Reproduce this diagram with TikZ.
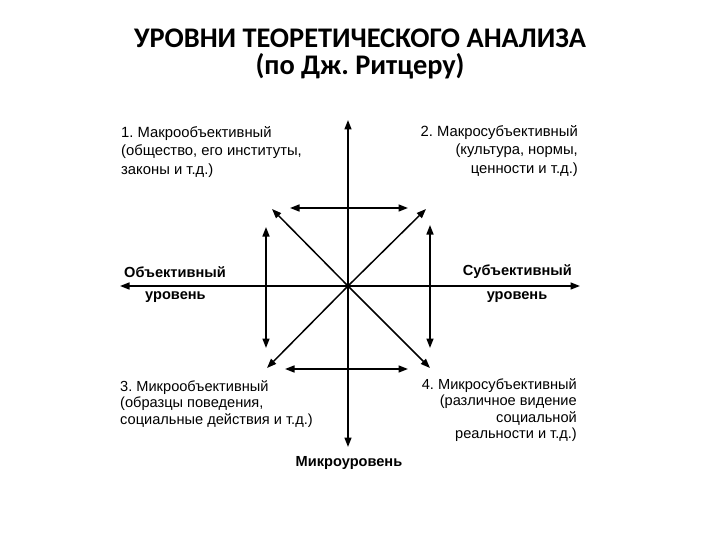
\documentclass[tikz,border=0pt]{standalone}
\usepackage{fontspec}
\setmainfont{Liberation Sans}
\newfontfamily\titlefont{Carlito}
\usetikzlibrary{arrows.meta}
\frenchspacing
\begin{document}
\begin{tikzpicture}[x=1pt,y=-1pt,
  tip/.tip={Triangle[length=9.5pt,width=7pt]},
  dbl/.style={line width=1.5pt,{tip}-{tip}},
  one/.style={line width=1.5pt,-{tip}},
  lbl/.style={inner sep=0pt,font=\fontsize{14.8}{18.5}\selectfont},
  lbls/.style={inner sep=0pt,font=\fontsize{14.6}{16.6}\selectfont},
  blbl/.style={inner sep=0pt,font=\fontsize{14.6}{16}\selectfont\bfseries},
  ttl/.style={inner sep=0pt,font=\titlefont\bfseries\fontsize{28.4}{30}\selectfont}]
\useasboundingbox (0,0) rectangle (720,540);

% title
\node[ttl] (t1) at (360,38) {УРОВНИ ТЕОРЕТИЧЕСКОГО АНАЛИЗА};
\node[ttl] (t2) at (360,66) {(по Дж. Ритцеру)};

% coordinates
\coordinate (C) at (348,286);
\coordinate (top) at (348,120);
\coordinate (bot) at (348,447);
\coordinate (lft) at (120,286);
\coordinate (rgt) at (580,286);
\coordinate (dul) at (272,209);
\coordinate (dur) at (426,209);
\coordinate (dll) at (267,368);
\coordinate (dlr) at (430,368);
\coordinate (htl) at (290,208);
\coordinate (htr) at (408,208);
\coordinate (hbl) at (285,369);
\coordinate (hbr) at (408,369);
\coordinate (vlt) at (266,227);
\coordinate (vlb) at (266,348);
\coordinate (vrt) at (430,225);
\coordinate (vrb) at (430,348);

% axes
\draw[dbl] (bot) -- (top);
\draw[dbl] (lft) -- (rgt);
\draw[one] (C) -- (dul);
\draw[one] (C) -- (dur);
\draw[one] (C) -- (dll);
\draw[one] (C) -- (dlr);
\draw[dbl] (htl) -- (htr);
\draw[dbl] (hbl) -- (hbr);
\draw[dbl] (vlt) -- (vlb);
\draw[dbl] (vrt) -- (vrb);

% corner texts
\node[lbl,anchor=north west,align=left] (q1) at (121,126)
  {1. Макрообъективный\\(общество, его институты,\\законы и т.д.)};
\node[lbl,anchor=north east,align=right] (q2) at (578,125)
  {2. Макросубъективный\\(культура, нормы,\\ценности и т.д.)};
\node[lbls,anchor=north west,align=left] (q3) at (120,380)
  {3. Микрообъективный\\(образцы поведения,\\социальные действия и т.д.)};
\node[lbls,anchor=north east,align=right] (q4) at (577,378)
  {4. Микросубъективный\\(различное видение\\социальной\\реальности и т.д.)};

% axis labels
\node[blbl,anchor=west] (ol1) at (124,272) {Объективный};
\node[blbl,anchor=west] (ol2) at (145,297) {уровень};
\node[blbl,anchor=east] (sl1) at (572,272) {Субъективный};
\node[blbl] (sl2) at (517,297) {уровень};
\node[blbl] (mic) at (349,463) {Микроуровень};
\end{tikzpicture}
\end{document}
